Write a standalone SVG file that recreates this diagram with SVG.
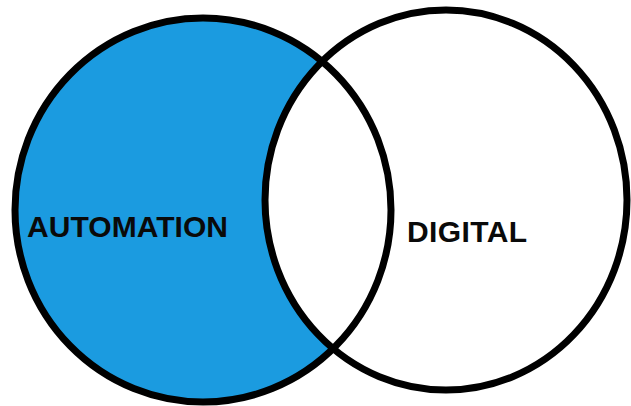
<svg xmlns="http://www.w3.org/2000/svg" width="631" height="406" viewBox="0 0 631 406">
<style>
.ring{fill:none;stroke:#000;stroke-width:7}
.lbl{font-family:"Liberation Sans",Arial,sans-serif;font-weight:bold;font-size:30px;fill:#0a0a0a}
</style>
<rect width="631" height="406" fill="#fff"/>
<g id="fills">
<ellipse cx="203" cy="210" rx="188" ry="192" fill="#1b9be0"/>
<ellipse cx="446" cy="200" rx="181" ry="190" fill="#fff"/>
</g>
<g id="automation">
<ellipse class="ring" cx="203" cy="210" rx="188" ry="192"/>
<text class="lbl" x="27" y="237" textLength="201">AUTOMATION</text>
</g>
<g id="digital">
<ellipse class="ring" cx="446" cy="200" rx="181" ry="190"/>
<text class="lbl" x="407" y="242" textLength="120">DIGITAL</text>
</g>
</svg>
